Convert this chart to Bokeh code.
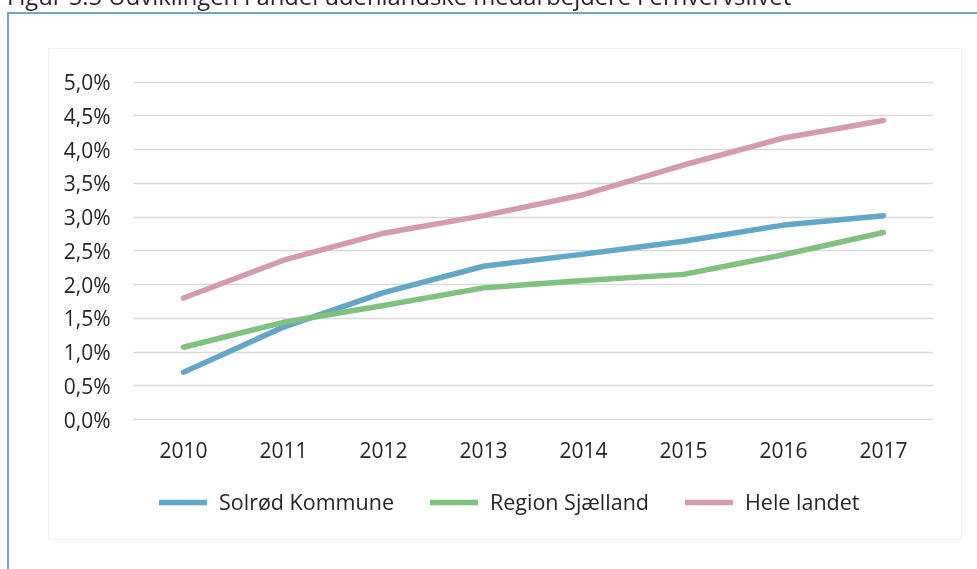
from bokeh.plotting import figure
from bokeh.models import (Range1d, FixedTicker, CustomJSTickFormatter, Legend, LegendItem, Div)
from bokeh.embed import file_html
from bokeh.resources import INLINE

# ---- data ----
years = [2010, 2011, 2012, 2013, 2014, 2015, 2016, 2017]
solrod = [0.70, 1.37, 1.88, 2.27, 2.45, 2.64, 2.88, 3.02]
region = [1.07, 1.44, 1.69, 1.95, 2.06, 2.15, 2.44, 2.77]
hele = [1.80, 2.36, 2.76, 3.02, 3.33, 3.77, 4.17, 4.43]
series_names = ["Solrød Kommune", "Region Sjælland", "Hele landet"]
y_ticks = [0.0, 0.5, 1.0, 1.5, 2.0, 2.5, 3.0, 3.5, 4.0, 4.5, 5.0]
y_tick_labels = ["0,0%", "0,5%", "1,0%", "1,5%", "2,0%", "2,5%", "3,0%", "3,5%", "4,0%", "4,5%", "5,0%"]
x_tick_labels = ["2010", "2011", "2012", "2013", "2014", "2015", "2016", "2017"]
title_text = "Figur 5.5 Udviklingen i andel udenlandske medarbejdere i erhvervslivet"

colors = ["#62A6CA", "#7FC27E", "#D59AAB"]
FONT = "Open Sans"
TXT = "#262626"
FRAME_COL = "#6FA7C7"

W, H = 977, 569
F_LEFT, F_RIGHT, F_TOP, F_BOTTOM = 133, 933, 71, 529
PX_PER_X = 100.0
PX_PER_Y = 67.5
Y0_PX = 419.0

def X(px):
    return 2009.5 + (px - F_LEFT) / PX_PER_X

def Y(py):
    return (Y0_PX - py) / PX_PER_Y

p = figure(width=W, height=H, output_backend="svg", toolbar_location=None,
           x_range=Range1d(X(F_LEFT), X(F_RIGHT)), y_range=Range1d(Y(F_BOTTOM), Y(F_TOP)),
           min_border_left=F_LEFT, min_border_right=W - F_RIGHT,
           min_border_top=F_TOP, min_border_bottom=H - F_BOTTOM)
p.styles = {"position": "fixed", "top": "0px", "left": "0px"}
p.outline_line_color = None
p.background_fill_color = "white"
p.border_fill_color = "white"

# axes
p.xaxis.ticker = FixedTicker(ticks=years)
p.xaxis.formatter = CustomJSTickFormatter(args=dict(tvals=years, tlabels=x_tick_labels),
    code="const i = tvals.indexOf(tick); return i >= 0 ? tlabels[i] : '';")
p.xaxis.fixed_location = 0
p.yaxis.ticker = FixedTicker(ticks=y_ticks)
p.yaxis.formatter = CustomJSTickFormatter(args=dict(tvals=y_ticks, tlabels=y_tick_labels),
    code="for (let i = 0; i < tvals.length; i++) { if (Math.abs(tvals[i] - tick) < 1e-6) return tlabels[i]; } return '';")
for ax in (p.xaxis, p.yaxis):
    ax.axis_line_color = None
    ax.major_tick_line_color = None
    ax.minor_tick_line_color = None
    ax.major_label_text_font = FONT
    ax.major_label_text_font_size = "21px"
    ax.major_label_text_color = TXT
p.yaxis.major_label_standoff = 17
p.xaxis.major_label_standoff = 16

p.xgrid.grid_line_color = None
p.ygrid.grid_line_color = "#D9D9D9"
p.ygrid.grid_line_width = 1.5

renderers = []
for vals, c in zip([solrod, region, hele], colors):
    r = p.line(years, vals, line_color=c, line_width=5.5, line_cap="round", line_join="round")
    renderers.append(r)

legend = Legend(items=[LegendItem(label=n, renderers=[r]) for n, r in zip(series_names, renderers)],
                orientation="horizontal", location=(26, 13),
                glyph_width=48, glyph_height=26, label_height=26, label_standoff=12,
                spacing=36, padding=0, margin=0,
                label_text_font=FONT, label_text_font_size="21.5px", label_text_color=TXT,
                border_line_color=None, background_fill_alpha=0)
p.add_layout(legend, "center")

# decorations outside the plot: page frame lines, faint chart box and the cut-off caption
deco = Div(text=(
    f'<div style="position:fixed;top:12px;left:7px;width:990px;height:600px;'
    f'border-top:2px solid {FRAME_COL};border-left:2px solid {FRAME_COL};"></div>'
    f'<div style="position:fixed;top:48px;left:48px;width:914px;height:492px;'
    f'border:1px solid #F2F2F2;"></div>'
    f'<div style="position:fixed;top:-20px;left:7px;white-space:nowrap;font-family:\'{FONT}\';'
    f'font-size:23.8px;line-height:normal;color:{TXT};">{title_text}</div>'
))

open("out.html", "w").write(file_html([p, deco], INLINE))
